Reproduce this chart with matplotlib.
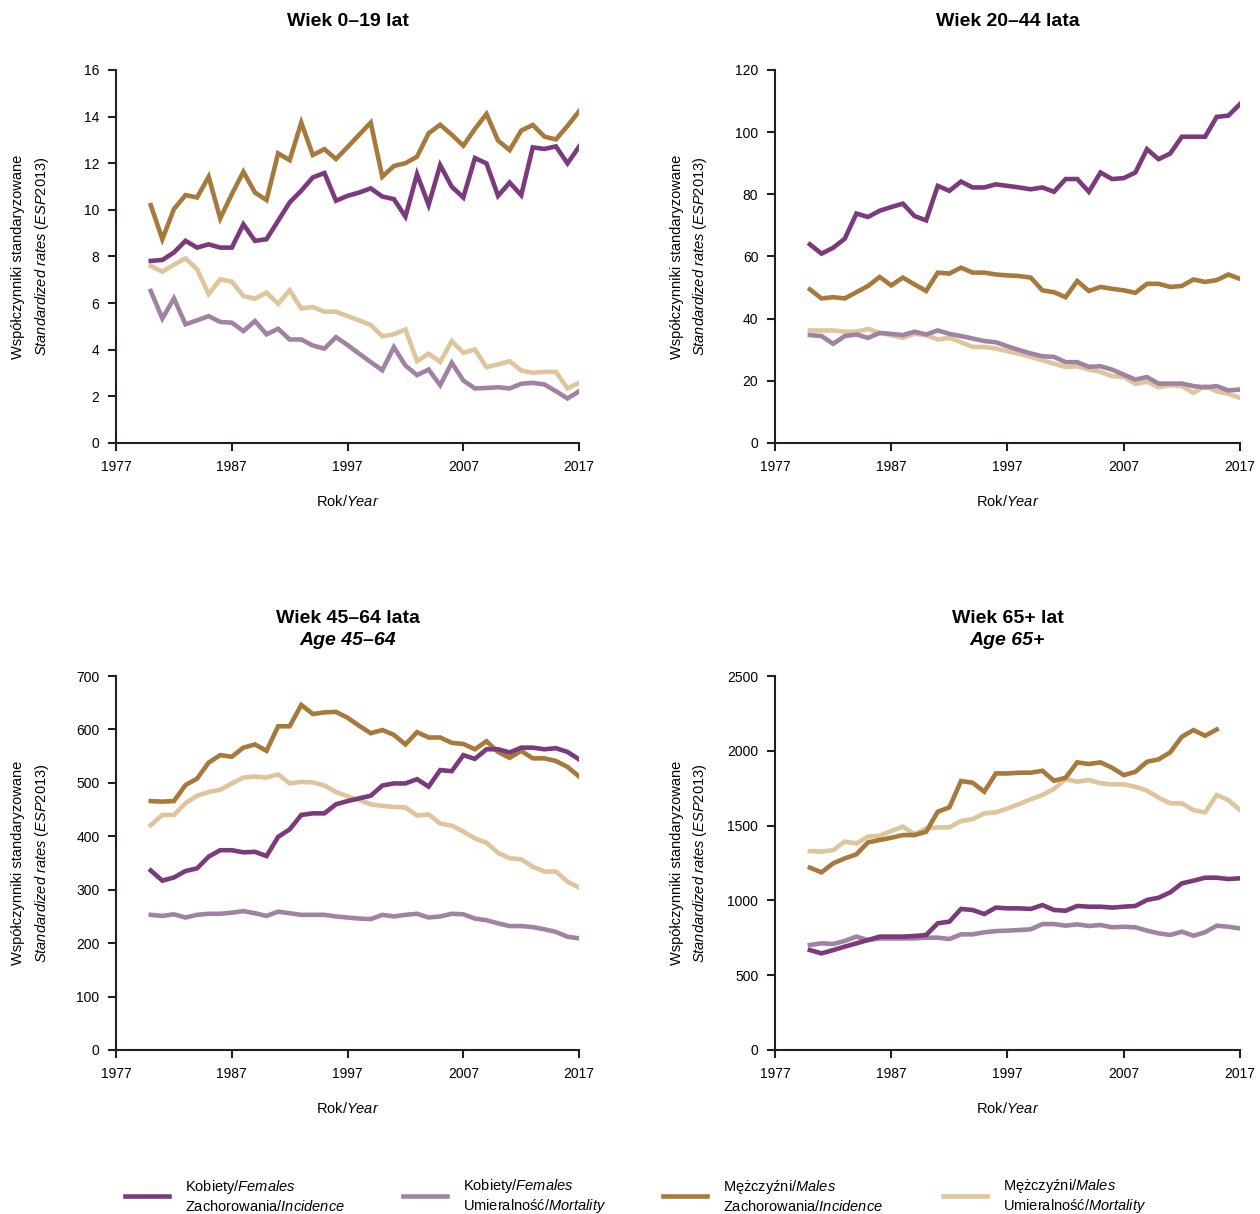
import numpy as np
import matplotlib
matplotlib.use("Agg")
import matplotlib.pyplot as plt

plt.rcParams['font.family'] = ['Liberation Sans', 'DejaVu Sans']
plt.rcParams['mathtext.fontset'] = 'custom'
plt.rcParams['mathtext.rm'] = 'Liberation Sans'
plt.rcParams['mathtext.it'] = 'Liberation Sans:italic'
plt.rcParams['mathtext.bf'] = 'Liberation Sans:bold'

years = np.arange(1980, 2018)

# Wiek 0-19
p1_f_inc = [7.81, 7.85, 8.17, 8.67, 8.38, 8.52, 8.38, 8.38, 9.38, 8.67, 8.74, 9.53, 10.32, 10.82,
            11.39, 11.58, 10.39, 10.6, 10.74, 10.92, 10.57, 10.46, 9.71, 11.53, 10.21, 11.92, 10.99,
            10.53, 12.22, 11.99, 10.6, 11.17, 10.63, 12.68, 12.61, 12.72, 11.99, 12.71]
p1_f_mort = [6.52, 5.34, 6.2, 5.09, 5.26, 5.44, 5.19, 5.16, 4.8, 5.23, 4.66, 4.9, 4.44, 4.44,
             4.18, 4.05, 4.54, 4.2, 3.83, 3.47, 3.12, 4.11, 3.32, 2.91, 3.15, 2.48, 3.44,
             2.68, 2.34, 2.36, 2.39, 2.34, 2.54, 2.58, 2.51, 2.22, 1.91, 2.22]
p1_m_inc = [10.2, 8.74, 10.03, 10.63, 10.53, 11.42, 9.63, 10.67, 11.63, 10.74, 10.42, 12.42, 12.13,
            13.74, 12.35, 12.6, 12.18, 12.69, 13.22, 13.74, 11.42, 11.88, 12.0, 12.28, 13.28, 13.65,
            13.22, 12.75, 13.47, 14.11, 12.97, 12.56, 13.4, 13.64, 13.14, 13.02, 13.6, 14.23]
p1_m_mort = [7.59, 7.35, 7.64, 7.92, 7.45, 6.38, 7.02, 6.92, 6.3, 6.19, 6.45, 5.97, 6.55, 5.77,
             5.83, 5.63, 5.63, 5.44, 5.26, 5.06, 4.58, 4.66, 4.87, 3.51, 3.83, 3.48, 4.37,
             3.87, 4.01, 3.25, 3.37, 3.51, 3.11, 3.01, 3.05, 3.05, 2.34, 2.58]

# Wiek 20-44
p2_f_inc = [63.9, 60.9, 62.8, 65.7, 73.8, 72.7, 74.7, 75.9, 77.0, 73.0, 71.6, 82.7, 81.1, 84.1,
            82.2, 82.2, 83.2, 82.7, 82.2, 81.6, 82.2, 80.8, 84.9, 84.9, 80.8, 87.0, 84.9, 85.2,
            87.0, 94.5, 91.3, 93.1, 98.5, 98.5, 98.5, 104.9, 105.3, 109.0]
p2_f_mort = [34.7, 34.4, 31.9, 34.4, 34.9, 33.8, 35.4, 35.1, 34.7, 35.8, 34.9, 36.2, 35.1, 34.4,
             33.6, 32.8, 32.4, 31.1, 29.9, 28.8, 27.9, 27.7, 26.0, 26.0, 24.5, 24.7, 23.6, 22.0,
             20.4, 21.2, 19.1, 19.1, 19.1, 18.3, 17.9, 18.3, 16.9, 17.2]
p2_m_inc = [49.4, 46.5, 46.9, 46.5, 48.5, 50.5, 53.4, 50.7, 53.2, 51.0, 48.9, 54.8, 54.5, 56.4,
            54.8, 54.8, 54.2, 53.9, 53.7, 53.2, 49.1, 48.5, 46.9, 52.1, 48.9, 50.2, 49.6, 49.1,
            48.3, 51.2, 51.2, 50.2, 50.5, 52.6, 51.8, 52.4, 54.2, 52.8]
p2_m_mort = [36.2, 36.2, 36.2, 35.8, 35.8, 36.7, 35.4, 34.7, 33.8, 35.1, 34.7, 33.3, 33.8, 32.4,
             30.9, 30.9, 30.4, 29.5, 28.7, 27.7, 26.6, 25.5, 24.4, 24.7, 23.6, 22.9, 21.5, 21.3,
             19.0, 19.7, 17.9, 18.6, 18.3, 16.1, 18.3, 16.6, 15.8, 14.5]

# Wiek 45-64
p3_f_inc = [336, 317, 323, 335, 340, 362, 374, 374, 370, 371, 363, 399, 413, 440, 443, 443, 460,
            466, 471, 476, 495, 499, 499, 507, 493, 524, 522, 552, 545, 563, 563, 557, 566, 566,
            563, 565, 558, 544]
p3_f_mort = [253, 251, 254, 248, 253, 255, 255, 257, 260, 256, 251, 259, 256, 253, 253, 253, 250,
             248, 246, 245, 253, 250, 253, 255, 248, 250, 255, 254, 246, 243, 237, 232, 232, 230,
             226, 221, 212, 209]
p3_m_inc = [466, 465, 466, 496, 508, 538, 552, 549, 566, 572, 560, 606, 606, 646, 629, 632, 633,
            622, 607, 593, 599, 590, 572, 595, 585, 585, 575, 573, 563, 578, 558, 547, 560, 546,
            546, 541, 530, 512]
p3_m_mort = [421, 440, 440, 462, 476, 483, 487, 499, 510, 512, 510, 516, 499, 502, 501, 495, 483,
             475, 468, 460, 457, 455, 454, 439, 441, 424, 420, 409, 396, 388, 369, 359, 357, 343,
             334, 334, 315, 304]

# Wiek 65+
p4_f_inc = [668, 646, 668, 691, 713, 735, 758, 758, 758, 762, 769, 847, 858, 943, 936, 909, 952,
            947, 947, 943, 969, 936, 931, 963, 958, 958, 952, 958, 963, 1003, 1018, 1054, 1114,
            1132, 1152, 1152, 1143, 1148]
p4_f_mort = [702, 713, 709, 729, 758, 735, 746, 746, 746, 746, 751, 751, 742, 773, 773, 787, 795,
             798, 802, 807, 842, 842, 831, 840, 829, 836, 820, 824, 820, 798, 780, 769, 791, 764,
             787, 831, 824, 813]
p4_m_inc = [1219, 1188, 1248, 1281, 1308, 1388, 1404, 1419, 1437, 1437, 1459, 1593, 1622, 1798,
            1787, 1727, 1849, 1849, 1854, 1854, 1867, 1800, 1820, 1923, 1912, 1923, 1887, 1838,
            1860, 1927, 1943, 1990, 2094, 2139, 2101, 2143, np.nan, np.nan]
p4_m_mort = [1330, 1326, 1337, 1393, 1381, 1426, 1433, 1464, 1493, 1442, 1482, 1488, 1488, 1531,
             1544, 1582, 1589, 1615, 1644, 1676, 1705, 1745, 1811, 1794, 1805, 1783, 1776, 1776,
             1760, 1734, 1687, 1649, 1649, 1604, 1589, 1705, 1671, 1604]

titles = ["Wiek 0–19 lat", "Wiek 20–44 lata", "Wiek 45–64 lata", "Wiek 65+ lat"]
subtitles = [None, None, "Age 45–64", "Age 65+"]
yticks = [np.arange(0, 17, 2), np.arange(0, 121, 20), np.arange(0, 701, 100), np.arange(0, 2501, 500)]
panels = [
    (p1_f_inc, p1_f_mort, p1_m_inc, p1_m_mort),
    (p2_f_inc, p2_f_mort, p2_m_inc, p2_m_mort),
    (p3_f_inc, p3_f_mort, p3_m_inc, p3_m_mort),
    (p4_f_inc, p4_f_mort, p4_m_inc, p4_m_mort),
]

colors = ['#7b3a7b', '#a083a2', '#a77a3b', '#dec59c']
labels = ["Kobiety/$\\it{Females}$\nZachorowania/$\\it{Incidence}$",
          "Kobiety/$\\it{Females}$\nUmieralność/$\\it{Mortality}$",
          "Mężczyźni/$\\it{Males}$\nZachorowania/$\\it{Incidence}$",
          "Mężczyźni/$\\it{Males}$\nUmieralność/$\\it{Mortality}$"]
legend_x = [0.0992, 0.3198, 0.5262, 0.7484]
# draw order: beige, light purple, brown, dark purple on top
order = [3, 1, 2, 0]

fig = plt.figure(figsize=(12.6, 12.14), dpi=100)
rects = [[0.0921, 0.6351, 0.3675, 0.3073], [0.6151, 0.6351, 0.369, 0.3073],
         [0.0921, 0.1351, 0.3675, 0.308], [0.6151, 0.1351, 0.369, 0.308]]

handles = [None] * 4
for k in range(4):
    ax = fig.add_axes(rects[k])
    for s in order:
        ln, = ax.plot(years, panels[k][s], color=colors[s], lw=3.3, solid_joinstyle='miter')
        handles[s] = ln
    ax.set_xlim(1977, 2017)
    ax.set_ylim(yticks[k][0], yticks[k][-1])
    ax.set_xticks([1977, 1987, 1997, 2007, 2017])
    ax.set_yticks(yticks[k])
    for sp in ['top', 'right']:
        ax.spines[sp].set_visible(False)
    for sp in ['left', 'bottom']:
        ax.spines[sp].set_linewidth(1.5)
        ax.spines[sp].set_color('#231f20')
    ax.tick_params(direction='out', length=6, width=1.5, color='#231f20', labelsize=10, pad=6)
    ax.set_xlabel("Rok/$\\it{Year}$", fontsize=10.5, labelpad=15)
    ax.set_ylabel("Współczynniki standaryzowane\n$\\it{Standardized\\ rates\\ (ESP2013)}$",
                  fontsize=10.5, linespacing=1.6)
    ax.yaxis.set_label_coords(-0.141, 0.5)
    if subtitles[k] is None:
        ax.text(0.5, 1.13, titles[k], transform=ax.transAxes, ha='center', va='center',
                fontsize=14, fontweight='bold')
    else:
        ax.text(0.5, 1.153, titles[k], transform=ax.transAxes, ha='center', va='center',
                fontsize=14, fontweight='bold')
        ax.text(0.5, 1.095, subtitles[k], transform=ax.transAxes, ha='center', va='center',
                fontsize=14, fontweight='bold', fontstyle='italic')

for s in range(4):
    fig.legend([handles[s]], [labels[s]], loc='center left',
               bbox_to_anchor=(legend_x[s], 1 - 1196 / 1214), frameon=False,
               fontsize=10.5, handlelength=3.0, handletextpad=1.1, borderpad=0, borderaxespad=0)

fig.savefig("out.png", dpi=100)
